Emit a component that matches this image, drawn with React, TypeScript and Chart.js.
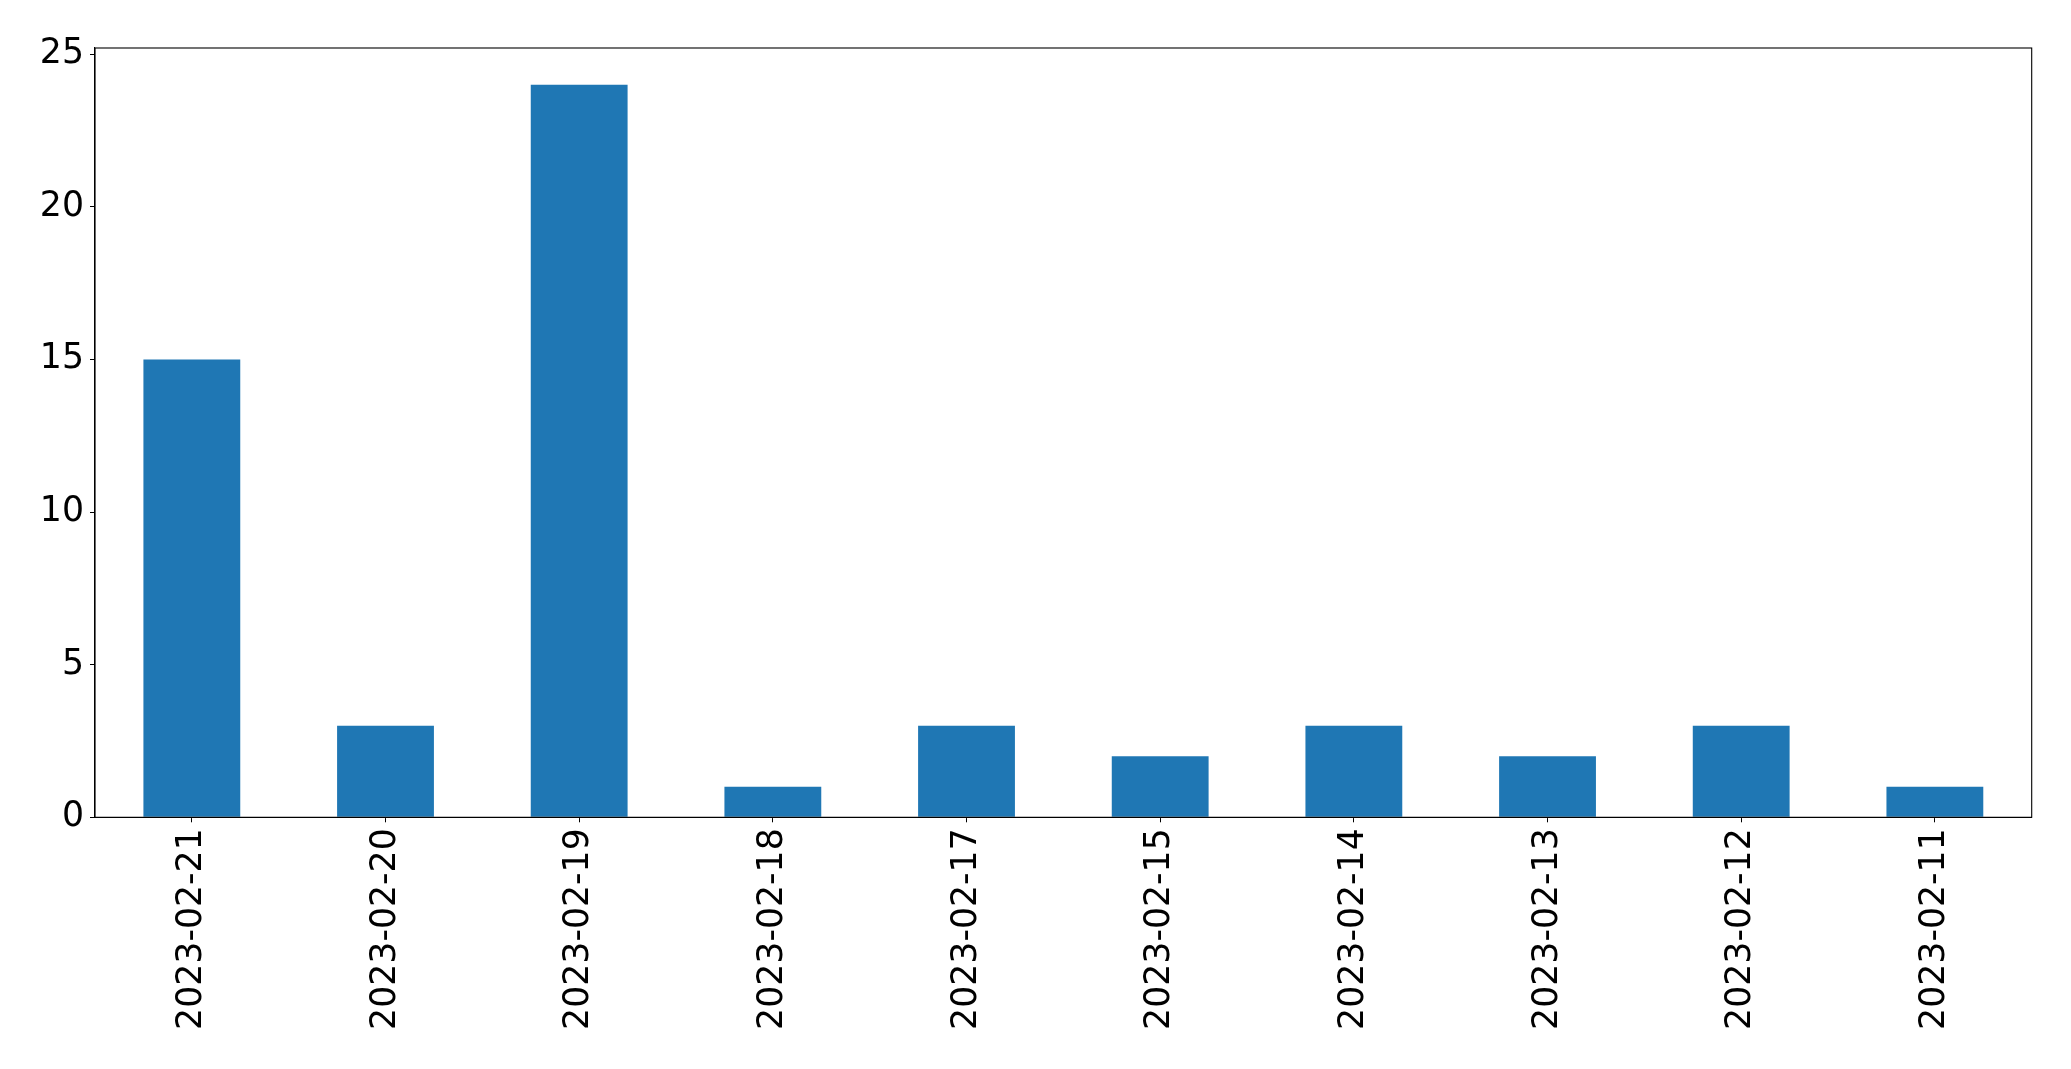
import React, { useEffect, useRef } from "react";
import { Chart, registerables } from "chart.js";

Chart.register(...registerables);

const categories = [
  "2023-02-21",
  "2023-02-20",
  "2023-02-19",
  "2023-02-18",
  "2023-02-17",
  "2023-02-15",
  "2023-02-14",
  "2023-02-13",
  "2023-02-12",
  "2023-02-11",
];
const counts = [15, 3, 24, 1, 3, 2, 3, 2, 3, 1];
const yMax = 25.2;
const yStep = 5;

const FONT = "'DejaVu Sans', sans-serif";

const frame = {
  id: "frame",
  afterDatasetsDraw(chart: any) {
    const { ctx, chartArea } = chart;
    ctx.save();
    ctx.strokeStyle = "#000";
    ctx.lineWidth = 1.1;
    ctx.strokeRect(chartArea.left, chartArea.top, chartArea.right - chartArea.left, chartArea.bottom - chartArea.top);
    ctx.restore();
  },
};

export default function App() {
  const ref = useRef<HTMLCanvasElement | null>(null);
  useEffect(() => {
    document.body.style.margin = "0";
    const chart = new Chart(ref.current!, {
      type: "bar",
      data: {
        labels: categories,
        datasets: [
          {
            data: counts,
            backgroundColor: "#1f77b4",
            borderWidth: 0,
            categoryPercentage: 1,
            barPercentage: 0.5,
          },
        ],
      },
      options: {
        animation: false,
        responsive: false,
        devicePixelRatio: 1,
        layout: { padding: { left: 0, top: 48, right: 39.3, bottom: 0 } },
        plugins: { legend: { display: false }, tooltip: { enabled: false } },
        scales: {
          x: {
            offset: true,
            grid: { drawOnChartArea: false, drawTicks: true, tickLength: 5, tickColor: "#000", offset: false },
            border: { display: true, color: "#000", width: 1.1 },
            ticks: {
              color: "#000",
              font: { family: FONT, size: 34.7 },
              maxRotation: 90,
              minRotation: 90,
              autoSkip: false,
              padding: 6,
            },
            afterFit: (s: any) => {
              s.height = 1069 - 817.3;
            },
          },
          y: {
            min: 0,
            max: yMax,
            grid: { drawOnChartArea: false, drawTicks: true, tickLength: 5, tickColor: "#000" },
            border: { display: true, color: "#000", width: 1.1 },
            ticks: {
              color: "#000",
              font: { family: FONT, size: 34.7 },
              stepSize: yStep,
              includeBounds: false,
              padding: 6,
            },
            afterFit: (s: any) => {
              s.width = 95;
            },
          },
        },
      },
      plugins: [frame],
    });
    return () => chart.destroy();
  }, []);
  return (
    <div style={{ position: "absolute", left: 0, top: 0, width: 2071, height: 1069, background: "#fff" }}>
      <canvas ref={ref} width={2071} height={1069} />
    </div>
  );
}
